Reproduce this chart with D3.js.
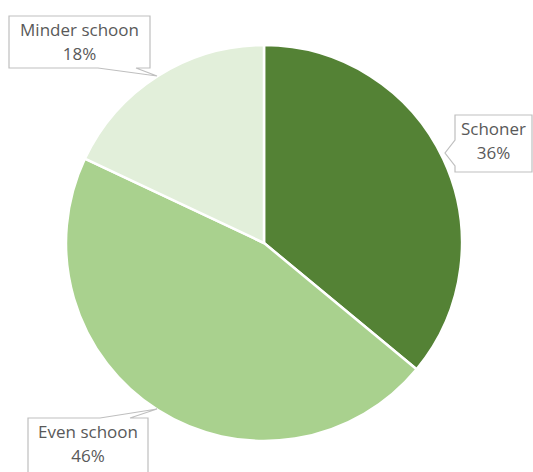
<!DOCTYPE html>
<html><head><meta charset="utf-8">
<script src="https://cdn.jsdelivr.net/npm/d3@7"></script>
<style>body{margin:0;background:#fff}svg{display:block}</style>
</head><body>
<svg id="c" width="533" height="472"></svg>
<script>
const categories = ["Schoner", "Even schoon", "Minder schoon"];
const values = [36, 46, 18];
const labels = ["36%", "46%", "18%"];
const colors = ["#548235", "#A9D18E", "#E2EFDA"];

const svg = d3.select("#c");
const cx = 264, cy = 243, r = 198;
const pie = d3.pie().sort(null).value(d => d)(values);
const arc = d3.arc().innerRadius(0).outerRadius(r);
const g = svg.append("g").attr("transform", `translate(${cx},${cy})`);
g.selectAll("path").data(pie).join("path")
  .attr("d", arc).attr("fill", (d, i) => colors[i])
  .attr("stroke", "#fff").attr("stroke-width", 2.5).attr("stroke-linejoin", "round");

const callouts = [
  {box:[455,115,532,172], side:"left", base:[140,166], tip:[445,153]},
  {box:[28,418,148,476], side:"top", base:[100,130], tip:[157,409]},
  {box:[9,16,150,68], side:"bottom", base:[98,136], tip:[157,76]}
];
callouts.forEach((c, i) => {
  const [x0,y0,x1,y1] = c.box;
  let p;
  if (c.side === "left") {
    p = [[x0,y0],[x1,y0],[x1,y1],[x0,y1],[x0,c.base[1]],c.tip,[x0,c.base[0]]];
  } else if (c.side === "top") {
    p = [[x0,y0],[c.base[0],y0],c.tip,[c.base[1],y0],[x1,y0],[x1,y1],[x0,y1]];
  } else {
    p = [[x0,y0],[x1,y0],[x1,y1],[c.base[1],y1],c.tip,[c.base[0],y1],[x0,y1]];
  }
  svg.append("path").attr("d", "M" + p.map(q => q.join(",")).join("L") + "Z")
    .attr("fill", "#fff").attr("stroke", "#bfbfbf").attr("stroke-width", 1.2);
  const tx = (x0 + x1) / 2;
  const t = svg.append("text").attr("text-anchor", "middle")
    .attr("font-family", "Open Sans, Liberation Sans, sans-serif")
    .attr("font-size", 17).attr("fill", "#595959");
  t.append("tspan").attr("x", tx).attr("y", y0 + 20).text(categories[i]);
  t.append("tspan").attr("x", tx).attr("y", y0 + 44).text(labels[i]);
});
</script>
</body></html>
